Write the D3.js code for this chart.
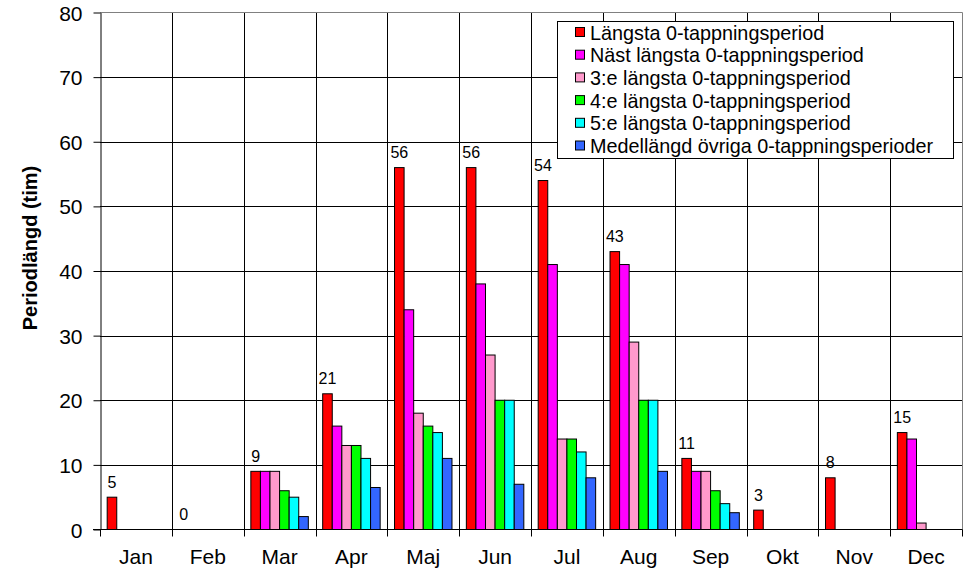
<!DOCTYPE html>
<meta charset="utf-8">
<script src="https://d3js.org/d3.v7.min.js"></script>
<style>
  body { margin: 0; background: #fff; }
  text { font-family: Arial, "Liberation Sans", sans-serif; fill: #000; }
</style>
<div id="my_dataviz"></div>
<script>

    // data
    const months = ["Jan", "Feb", "Mar", "Apr", "Maj", "Jun", "Jul", "Aug", "Sep", "Okt", "Nov", "Dec"];
    const seriesNames = [
        "Längsta 0-tappningsperiod",
        "Näst längsta 0-tappningsperiod",
        "3:e längsta 0-tappningsperiod",
        "4:e längsta 0-tappningsperiod",
        "5:e längsta 0-tappningsperiod",
        "Medellängd övriga 0-tappningsperioder"
    ];
    const langsta = [5, 0, 9, 21, 56, 56, 54, 43, 11, 3, 8, 15];
    const nastLangsta = [0, 0, 9, 16, 34, 38, 41, 41, 9, 0, 0, 14];
    const tredjeLangsta = [0, 0, 9, 13, 18, 27, 14, 29, 9, 0, 0, 1];
    const fjardeLangsta = [0, 0, 6, 13, 16, 20, 14, 20, 6, 0, 0, 0];
    const femteLangsta = [0, 0, 5, 11, 15, 20, 12, 20, 4, 0, 0, 0];
    const medelOvriga = [0, 0, 2, 6.5, 11, 7, 8, 9, 2.6, 0, 0, 0];
    const yTicks = [0, 10, 20, 30, 40, 50, 60, 70, 80];

    const allSeries = [langsta, nastLangsta, tredjeLangsta, fjardeLangsta, femteLangsta, medelOvriga];
    const colors = ["#ff0000", "#ff00ff", "#ff99cc", "#00ff00", "#00ffff", "#3366ff"];

    const width = 980, height = 575;
    const plot = { left: 100, right: 962, top: 12.5, bottom: 529.5 };

    const svg = d3.select("#my_dataviz")
        .append("svg")
        .attr("width", width)
        .attr("height", height);

    // scales
    const x0 = d3.scaleBand()
        .domain(months)
        .range([plot.left, plot.right])
        .padding(0);

    const x1 = d3.scaleBand()
        .domain(d3.range(seriesNames.length))
        .range([0, x0.bandwidth()])
        .paddingInner(0)
        .paddingOuter(0.75);

    const y = d3.scaleLinear()
        .domain([0, 80])
        .range([plot.bottom, plot.top]);

    // horizontal gridlines
    svg.append("g")
        .selectAll("line")
        .data(yTicks.filter(d => d > 0 && d < 80))
        .join("line")
        .attr("x1", plot.left).attr("x2", plot.right)
        .attr("y1", d => Math.round(y(d)) + 0.5).attr("y2", d => Math.round(y(d)) + 0.5)
        .attr("stroke", "#000")
        .attr("stroke-width", 1);

    // vertical gridlines at month boundaries (with tick below the axis)
    svg.append("g")
        .selectAll("line")
        .data(months.slice(1))
        .join("line")
        .attr("x1", d => Math.round(x0(d)) + 0.5).attr("x2", d => Math.round(x0(d)) + 0.5)
        .attr("y1", plot.top).attr("y2", plot.bottom + 7)
        .attr("stroke", "#000")
        .attr("stroke-width", 1);

    // plot border top / right (grey)
    svg.append("path")
        .attr("d", `M${plot.left},${plot.top}H${plot.right + 0.5}V${plot.bottom}`)
        .attr("fill", "none")
        .attr("stroke", "#808080")
        .attr("stroke-width", 1);

    // bars
    const groups = svg.append("g")
        .selectAll("g")
        .data(months)
        .join("g")
        .attr("transform", d => `translate(${x0(d)},0)`);

    groups.selectAll("rect")
        .data((m, i) => allSeries.map((s, k) => ({ k: k, value: s[i] })).filter(d => d.value > 0))
        .join("rect")
        .attr("x", d => x1(d.k))
        .attr("y", d => y(d.value))
        .attr("width", x1.bandwidth())
        .attr("height", d => y(0) - y(d.value))
        .attr("fill", d => colors[d.k])
        .attr("stroke", "#000")
        .attr("stroke-width", 1);

    // data labels above the longest period
    svg.append("g")
        .selectAll("text")
        .data(months)
        .join("text")
        .attr("x", (d, i) => x0(d) + x1(0) + x1.bandwidth() / 2)
        .attr("y", (d, i) => y(langsta[i]) - 9.5)
        .attr("text-anchor", "middle")
        .style("font-size", "16px")
        .text((d, i) => langsta[i]);

    // Y axis
    const yAxis = svg.append("g")
        .attr("transform", `translate(${plot.left + 0.5},0)`)
        .call(d3.axisLeft(y).tickValues(yTicks).tickSize(7).tickPadding(11).tickSizeOuter(0));
    yAxis.select(".domain").attr("stroke", "#000");
    yAxis.selectAll(".tick line").attr("stroke", "#000");
    yAxis.selectAll("text")
        .style("font-size", "21px")
        .attr("dy", "0.36em");

    // X axis
    svg.append("line")
        .attr("x1", plot.left - 7).attr("x2", plot.right + 0.5)
        .attr("y1", plot.bottom).attr("y2", plot.bottom)
        .attr("stroke", "#000");
    svg.append("g")
        .selectAll("line")
        .data([plot.left, plot.right])
        .join("line")
        .attr("x1", d => Math.round(d) + 0.5).attr("x2", d => Math.round(d) + 0.5)
        .attr("y1", plot.bottom).attr("y2", plot.bottom + 7)
        .attr("stroke", "#000");
    svg.append("g")
        .selectAll("text")
        .data(months)
        .join("text")
        .attr("x", d => x0(d) + x0.bandwidth() / 2)
        .attr("y", 564)
        .attr("text-anchor", "middle")
        .style("font-size", "21px")
        .text(d => d);

    // Y axis title
    svg.append("text")
        .attr("transform", "translate(37,248) rotate(-90)")
        .attr("text-anchor", "middle")
        .style("font-size", "20px")
        .style("font-weight", "bold")
        .text("Periodlängd (tim)");

    // legend
    const legend = svg.append("g");
    legend.append("rect")
        .attr("x", 557.5).attr("y", 21.5)
        .attr("width", 396).attr("height", 137)
        .attr("fill", "#fff")
        .attr("stroke", "#000");
    const rows = legend.selectAll("g")
        .data(seriesNames)
        .join("g")
        .attr("transform", (d, i) => `translate(0,${32.5 + i * 22.7})`);
    rows.append("rect")
        .attr("x", 575.5).attr("y", -5)
        .attr("width", 9).attr("height", 9)
        .attr("fill", (d, i) => colors[i])
        .attr("stroke", "#000");
    rows.append("text")
        .attr("x", 590)
        .attr("y", 0)
        .attr("dy", "0.36em")
        .style("font-size", "19.8px")
        .text(d => d);

</script>
